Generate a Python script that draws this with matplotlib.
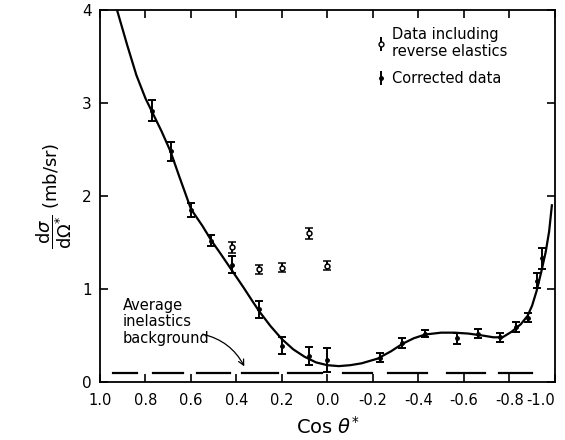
import matplotlib
matplotlib.use('Agg')
import matplotlib.pyplot as plt

# corrected data (filled dots)
corr_x = [0.77, 0.69, 0.60, 0.51, 0.42, 0.30, 0.20, 0.08, 0.00,
          -0.23, -0.33, -0.43, -0.57, -0.66, -0.76, -0.83, -0.88, -0.92, -0.945]
corr_y = [2.92, 2.48, 1.85, 1.52, 1.26, 0.78, 0.39, 0.28, 0.24,
          0.26, 0.42, 0.52, 0.47, 0.52, 0.48, 0.59, 0.69, 1.09, 1.33]
corr_err = [0.11, 0.10, 0.08, 0.06, 0.09, 0.09, 0.09, 0.10, 0.13,
            0.05, 0.05, 0.04, 0.06, 0.05, 0.05, 0.05, 0.05, 0.08, 0.11]

# data including reverse elastics (open circles)
rev_x = [0.42, 0.30, 0.20, 0.08, 0.00]
rev_y = [1.45, 1.21, 1.23, 1.60, 1.25]
rev_err = [0.06, 0.05, 0.05, 0.06, 0.05]

# fitted curve
curve_x = [0.925, 0.88, 0.84, 0.80, 0.77, 0.73, 0.69, 0.65, 0.60, 0.55, 0.51, 0.47,
           0.42, 0.37, 0.33, 0.30, 0.25, 0.20, 0.15, 0.10, 0.05, 0.00, -0.05, -0.10,
           -0.15, -0.22, -0.28, -0.33, -0.38, -0.43, -0.50, -0.56, -0.62, -0.68,
           -0.73, -0.77, -0.81, -0.85, -0.88, -0.90, -0.92, -0.94, -0.96, -0.975, -0.987]
curve_y = [4.00, 3.62, 3.30, 3.05, 2.90, 2.70, 2.48, 2.20, 1.86, 1.68, 1.52, 1.38,
           1.20, 1.02, 0.87, 0.76, 0.60, 0.46, 0.35, 0.27, 0.21, 0.18, 0.17, 0.18,
           0.20, 0.25, 0.33, 0.41, 0.47, 0.51, 0.53, 0.53, 0.52, 0.50,
           0.48, 0.48, 0.54, 0.62, 0.71, 0.82, 0.98, 1.18, 1.40, 1.62, 1.90]

# average inelastics background (hand drawn dashes)
bg_level = 0.10
bg_starts = [0.943, 0.767, 0.574, 0.376, 0.174, -0.068, -0.266, -0.525, -0.754]
bg_ends = [0.837, 0.635, 0.429, 0.218, 0.024, -0.196, -0.437, -0.692, -0.899]

xticks = [1.0, 0.8, 0.6, 0.4, 0.2, 0.0, -0.2, -0.4, -0.6, -0.8, -1.0]
xtick_labels = ['1.0', '0.8', '0.6', '0.4', '0.2', '0.0', '-0.2', '-0.4', '-0.6', '-0.8', '-1.0']
yticks = [0, 1, 2, 3, 4]

fig = plt.figure(figsize=(5.65, 4.4), dpi=100)
ax = fig.add_axes([0.177, 0.132, 0.805, 0.845])

ax.plot(curve_x, curve_y, color='black', lw=1.6)

ax.errorbar(corr_x, corr_y, yerr=corr_err, fmt='o', ms=2.5, color='black',
            ecolor='black', elinewidth=1.4, capsize=3, capthick=1.4)
ax.errorbar(rev_x, rev_y, yerr=rev_err, fmt='o', ms=3.5, mfc='white', mec='black',
            mew=1.1, color='black', elinewidth=1.4, capsize=3, capthick=1.4)

for s, e in zip(bg_starts, bg_ends):
    ax.plot([s, e], [bg_level, bg_level], color='black', lw=1.6)

ax.text(0.90, 0.90, 'Average\ninelastics\nbackground', fontsize=10.5, va='top', ha='left',
        linespacing=1.1)
ax.annotate('', xy=(0.36, 0.14), xytext=(0.56, 0.52),
            arrowprops=dict(arrowstyle='->', color='black', lw=0.9,
                            connectionstyle='arc3,rad=-0.25'))

h_rev = ax.errorbar([], [], yerr=[], fmt='o', ms=3.5, mfc='white', mec='black',
                    color='black', capsize=3, capthick=1.4, elinewidth=1.4)
h_corr = ax.errorbar([], [], yerr=[], fmt='o', ms=2.5, color='black',
                     capsize=3, capthick=1.4, elinewidth=1.4)
ax.legend([h_rev, h_corr], ['Data including\nreverse elastics', 'Corrected data'],
          loc='upper right', bbox_to_anchor=(0.925, 0.99), frameon=False, fontsize=10.5,
          handlelength=0.8, handletextpad=0.4, labelspacing=0.8)

ax.set_xlim(1.0, -1.0)
ax.set_ylim(0, 4)
ax.set_xticks(xticks)
ax.set_xticklabels(xtick_labels, fontsize=10.5)
ax.set_yticks(yticks)
ax.set_yticklabels([str(v) for v in yticks], fontsize=11)
ax.tick_params(direction='in', length=6, width=1.2, top=True, right=True)
ax.tick_params(axis='x', pad=8)
ax.tick_params(axis='y', pad=6)
ax.get_xticklabels()[-1].set_horizontalalignment('right')
for sp in ax.spines.values():
    sp.set_linewidth(1.3)

ax.set_xlabel(r'Cos $\theta^{*}$', fontsize=14, labelpad=6)
ax.set_ylabel(r'$\dfrac{\mathrm{d}\sigma}{\mathrm{d}\Omega^{*}}$ (mb/sr)', fontsize=13, labelpad=6)

fig.savefig('out.png', dpi=100)
